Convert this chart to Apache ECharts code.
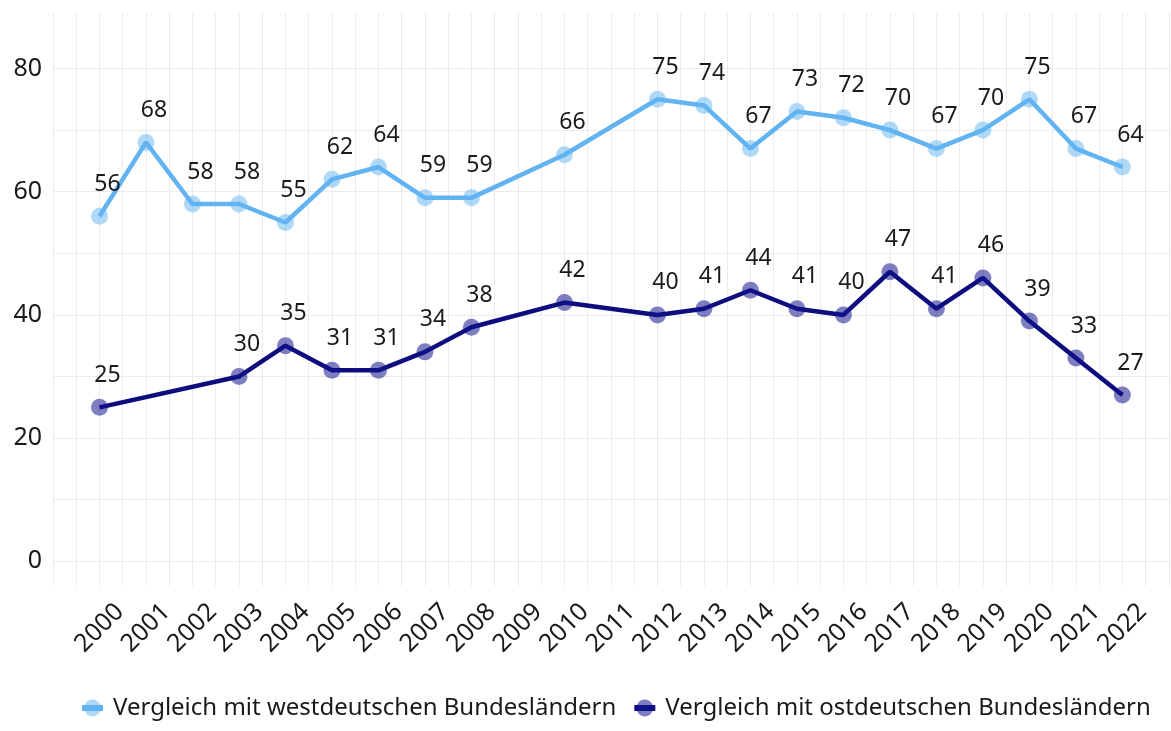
<!DOCTYPE html>
<html>
<head>
<meta charset="utf-8">
<script src="https://cdn.jsdelivr.net/npm/echarts@6/dist/echarts.min.js"></script>
<style>
  html, body { margin: 0; padding: 0; background: #fff; }
  #chart { width: 1171px; height: 731px; }
</style>
</head>
<body>
<div id="chart"></div>
<script>
    // Daten
    var yearLabels = [2000, 2001, 2002, 2003, 2004, 2005, 2006, 2007, 2008, 2009, 2010, 2011,
                      2012, 2013, 2014, 2015, 2016, 2017, 2018, 2019, 2020, 2021, 2022];
    var yTickLabels = [0, 20, 40, 60, 80];

    var westName = 'Vergleich mit westdeutschen Bundesländern';
    var westYears = [2000, 2001, 2002, 2003, 2004, 2005, 2006, 2007, 2008, 2010,
                     2012, 2013, 2014, 2015, 2016, 2017, 2018, 2019, 2020, 2021, 2022];
    var westValues = [56, 68, 58, 58, 55, 62, 64, 59, 59, 66,
                      75, 74, 67, 73, 72, 70, 67, 70, 75, 67, 64];

    var eastName = 'Vergleich mit ostdeutschen Bundesländern';
    var eastYears = [2000, 2003, 2004, 2005, 2006, 2007, 2008, 2010,
                     2012, 2013, 2014, 2015, 2016, 2017, 2018, 2019, 2020, 2021, 2022];
    var eastValues = [25, 30, 35, 31, 31, 34, 38, 42,
                      40, 41, 44, 41, 40, 47, 41, 46, 39, 33, 27];

    function pairs(xs, ys) {
        var out = [];
        for (var i = 0; i < xs.length; i++) out.push([xs[i], ys[i]]);
        return out;
    }

    var font = '"Noto Sans", sans-serif';
    var gridColor = '#ebebeb';
    // y-Achse: Striche im Abstand 1 ab -4, nur jede 10. Linie sichtbar
    var yLineColors = [];
    for (var k = 0; k < 10; k++) yLineColors.push(k === 4 ? gridColor : 'rgba(0,0,0,0)');

    function lineSeries(name, xs, ys, lineColor, pointColor) {
        return {
            name: name,
            type: 'line',
            data: pairs(xs, ys),
            symbol: 'circle',
            symbolSize: 17,
            lineStyle: { color: lineColor, width: 4.5 },
            itemStyle: { color: pointColor, borderWidth: 0 },
            label: {
                show: true,
                position: 'top',
                distance: 12,
                offset: [8, 0],
                color: '#1a1a1a',
                fontFamily: font,
                fontSize: 23
            },
            emphasis: { disabled: true },
            z: 3
        };
    }

    var myChart = echarts.init(document.getElementById('chart'));
    var option = {
        backgroundColor: '#fff',
        animation: false,
        grid: { left: 53, top: 13, width: 1118, height: 573 },
        xAxis: {
            type: 'value',
            min: 1999,
            max: 2023,
            interval: 0.5,
            axisLine: { show: false },
            axisTick: { show: false },
            splitLine: { show: true, lineStyle: { color: gridColor, width: 1 } },
            axisLabel: {
                rotate: 45,
                align: 'center',
                verticalAlign: 'middle',
                margin: 42,
                color: '#1a1a1a',
                fontFamily: font,
                fontSize: 25,
                formatter: function (v) {
                    return yearLabels.indexOf(v) >= 0 ? String(v) : '';
                }
            }
        },
        yAxis: {
            type: 'value',
            min: -4,
            max: 89,
            interval: 1,
            axisLine: { show: false },
            axisTick: { show: false },
            splitLine: { show: true, lineStyle: { color: yLineColors, width: 1 } },
            axisLabel: {
                margin: 11,
                color: '#1a1a1a',
                fontFamily: font,
                fontSize: 25,
                formatter: function (v) {
                    return yTickLabels.indexOf(v) >= 0 ? String(v) : '';
                }
            }
        },
        legend: {
            bottom: 6,
            left: 74,
            width: 1097,
            orient: 'horizontal',
            itemWidth: 21,
            itemHeight: 21,
            itemGap: 15,
            lineStyle: { width: 6 },
            textStyle: { color: '#1a1a1a', fontFamily: font, fontSize: 24, padding: [0, 0, 0, 5] },
            data: [westName, eastName]
        },
        series: [
            lineSeries(westName, westYears, westValues, '#62b3f2', 'rgba(98,179,242,0.5)'),
            lineSeries(eastName, eastYears, eastValues, '#0d0d80', 'rgba(20,20,140,0.55)')
        ]
    };
    myChart.setOption(option);
</script>
</body>
</html>
